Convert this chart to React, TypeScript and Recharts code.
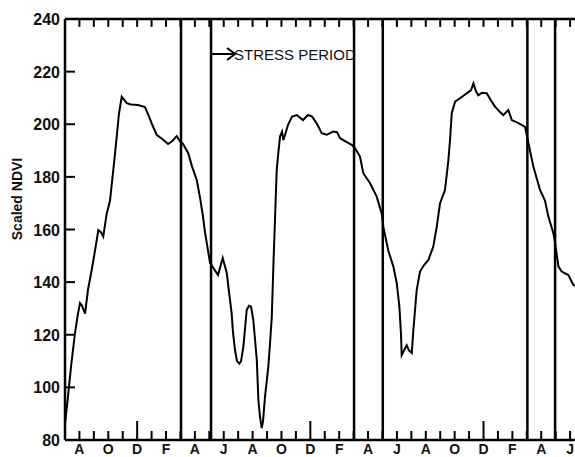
import { LineChart, Line, XAxis, YAxis, ReferenceLine } from 'recharts';

// months since July of the first season
const monthIdx = [
  0, 0.14, 0.42, 0.69, 0.9, 1.04, 1.18, 1.39, 1.59, 1.85, 2.08, 2.31, 2.49, 2.65, 2.89, 3.12,
  3.47, 3.74, 3.93, 4.28, 4.57, 5.06, 5.54, 5.82, 6.03, 6.35, 6.72, 7.14, 7.42, 7.74, 7.97,
  8.18, 8.54, 8.8, 9.13, 9.36, 9.56, 9.7, 9.88, 10.05, 10.33, 10.6, 10.93, 11.21, 11.37, 11.55,
  11.64, 11.78, 11.92, 12.08, 12.2, 12.36, 12.47, 12.59, 12.75, 12.89, 13.05, 13.17, 13.29,
  13.4, 13.51, 13.63, 13.72, 13.86, 14.09, 14.21, 14.33, 14.45, 14.55, 14.67, 14.78, 14.9,
  15.04, 15.13, 15.25, 15.45, 15.73, 16.06, 16.49, 16.84, 17.12, 17.44, 17.79, 18.14, 18.57,
  18.85, 19.06, 19.47, 19.89, 20.1, 20.44, 20.67, 21.14, 21.6, 21.95, 22.06, 22.4, 22.75,
  22.99, 23.17, 23.28, 23.33, 23.49, 23.68, 23.84, 24.03, 24.14, 24.37, 24.6, 24.88, 25.18,
  25.52, 25.76, 25.99, 26.33, 26.56, 26.68, 26.8, 27.03, 27.37, 27.84, 28.14, 28.3, 28.48,
  28.64, 28.9, 29.22, 29.52, 29.8, 30.08, 30.37, 30.72, 30.96, 31.39, 31.88, 32.22, 32.45,
  32.71, 32.92, 33.26, 33.49, 33.84, 33.96, 34.19, 34.42, 34.88, 35.22, 35.34,
];

const ndvi = [
  86, 93, 108, 120.5, 128, 132, 131, 128, 137, 144.6, 152, 159.8, 159, 157.3, 166, 171,
  189, 204, 210.5, 208, 207.5, 207.3, 206.5, 203, 200, 196, 194.5, 192.5, 193.5, 195.5, 193.5,
  192.5, 189, 184, 178.8, 172, 165, 159, 153, 147.3, 145, 142.7, 149.2, 143.5, 136, 128,
  121, 114.2, 110, 109, 110, 115.5, 122, 129.4, 131, 130.7, 125.6, 118, 110.4,
  95.2, 89, 84.5, 87, 96.5, 107.9, 117, 126.9, 148, 163.6, 182.6, 189, 195.3,
  197.2, 194, 196, 199.7, 202.9, 203.5, 201.6, 203.5, 202.9, 200.4, 196.6, 196, 197.2,
  197, 194.7, 193.4, 192.1, 190.9, 187.7, 181.4, 177.6, 172.5, 166, 161, 152, 146,
  139.6, 130.7, 120.6, 112.3, 114, 116, 114, 113, 121.8, 137, 144, 146.5, 148.4,
  153.5, 161, 170, 175, 186, 194, 204.2, 208.6, 209.9, 211.8, 213, 215.5, 212.5,
  211, 212, 211.8, 209, 206.7, 205, 203.5, 205.4, 201.6, 200.5, 199, 190, 184,
  179, 175, 171, 165, 158.6, 155, 146, 144, 142.7, 139, 138.5,
];

const monthLetters = ['J', 'A', 'S', 'O', 'N', 'D', 'J', 'F', 'M', 'A', 'M', 'J'];
const monthTicks = [
  1, 2, 3, 4, 5, 6, 7, 8, 9, 10, 11, 12, 13, 14, 15, 16, 17, 18,
  19, 20, 21, 22, 23, 24, 25, 26, 27, 28, 29, 30, 31, 32, 33, 34, 35,
];
const yearTicks = [5, 17, 29];
const yTicks = [80, 100, 120, 140, 160, 180, 200, 220, 240];
const periodLines = [8.04, 10.12, 20.03, 22.02, 32.04, 33.96];
const stressStart = 10.12;
const yMax = 240;
const topTickDepth = 3; // in NDVI units, about 8px

const data = monthIdx.map((m, i) => ({ m, v: ndvi[i] }));

const FONT = '"Liberation Sans", Arial, sans-serif';

function BottomTick(props: any) {
  const { x, y, payload } = props;
  const i = payload.value;
  const len = yearTicks.includes(i) ? 19 : 9;
  return (
    <g>
      <line x1={x} x2={x} y1={y} y2={y - len} stroke="#000" strokeWidth={2} />
      {i % 2 === 1 && (
        <text x={x} y={y + 14} textAnchor="middle" fontFamily={FONT} fontWeight="bold" fontSize={14} fill="#111">
          {monthLetters[i % 12]}
        </text>
      )}
    </g>
  );
}

function LeftTick(props: any) {
  const { x, y, payload } = props;
  const v = payload.value;
  return (
    <g>
      {v > 80 && v < 240 && <line x1={x} x2={x + 10} y1={y} y2={y} stroke="#000" strokeWidth={2} />}
      <text x={x - 5} y={y + 6} textAnchor="end" fontFamily={FONT} fontWeight="bold" fontSize={16} fill="#111">
        {v}
      </text>
    </g>
  );
}

function StressLabel(props: any) {
  const vb = props.viewBox || {};
  const x = vb.x;
  const y = vb.y + 35;
  return (
    <g>
      <line x1={x} x2={x + 24} y1={y} y2={y} stroke="#000" strokeWidth={2} />
      <path d={`M${x + 16} ${y - 6} L${x + 24} ${y} L${x + 16} ${y + 6}`} fill="none" stroke="#000" strokeWidth={2} />
      <text x={x + 23} y={y + 6} fontFamily={FONT} fontSize={15} fill="#111">
        STRESS PERIOD
      </text>
    </g>
  );
}

function YLabel(props: any) {
  const vb = props.viewBox || {};
  const cx = vb.x + 18;
  const cy = 199;
  return (
    <text x={cx} y={cy} transform={`rotate(-90 ${cx} ${cy})`} textAnchor="middle" dominantBaseline="middle"
      fontFamily={FONT} fontWeight="bold" fontSize={14} fill="#111">
      Scaled NDVI
    </text>
  );
}

export default function App() {
  return (
    <div style={{ position: 'absolute', left: 0, top: 0, background: '#fff' }}>
      <LineChart width={575} height={457} data={data} margin={{ top: 19, right: 0, left: 0, bottom: 0 }}>
        <XAxis
          dataKey="m"
          type="number"
          domain={[0, 35.34]}
          ticks={monthTicks}
          interval={0}
          allowDataOverflow
          height={17}
          tickSize={0}
          tickMargin={0}
          tickLine={false}
          axisLine={{ stroke: '#000', strokeWidth: 2.5 }}
          tick={BottomTick}
        />
        <YAxis
          type="number"
          domain={[80, yMax]}
          ticks={yTicks}
          interval={0}
          width={65}
          tickSize={0}
          tickMargin={0}
          tickLine={false}
          axisLine={{ stroke: '#000', strokeWidth: 2.5 }}
          tick={LeftTick}
          label={YLabel}
        />
        <ReferenceLine y={yMax} stroke="#000" strokeWidth={2.5} ifOverflow="visible" />
        {monthTicks.map((t) => (
          <ReferenceLine
            key={`t${t}`}
            segment={[{ x: t, y: yMax }, { x: t, y: yMax - topTickDepth }]}
            stroke="#000"
            strokeWidth={2}
          />
        ))}
        {periodLines.map((p) => (
          <ReferenceLine
            key={p}
            x={p}
            stroke="#000"
            strokeWidth={2.5}
            label={p === stressStart ? StressLabel : undefined}
          />
        ))}
        <Line
          type="linear"
          dataKey="v"
          stroke="#000"
          strokeWidth={2}
          dot={false}
          isAnimationActive={false}
        />
      </LineChart>
    </div>
  );
}
